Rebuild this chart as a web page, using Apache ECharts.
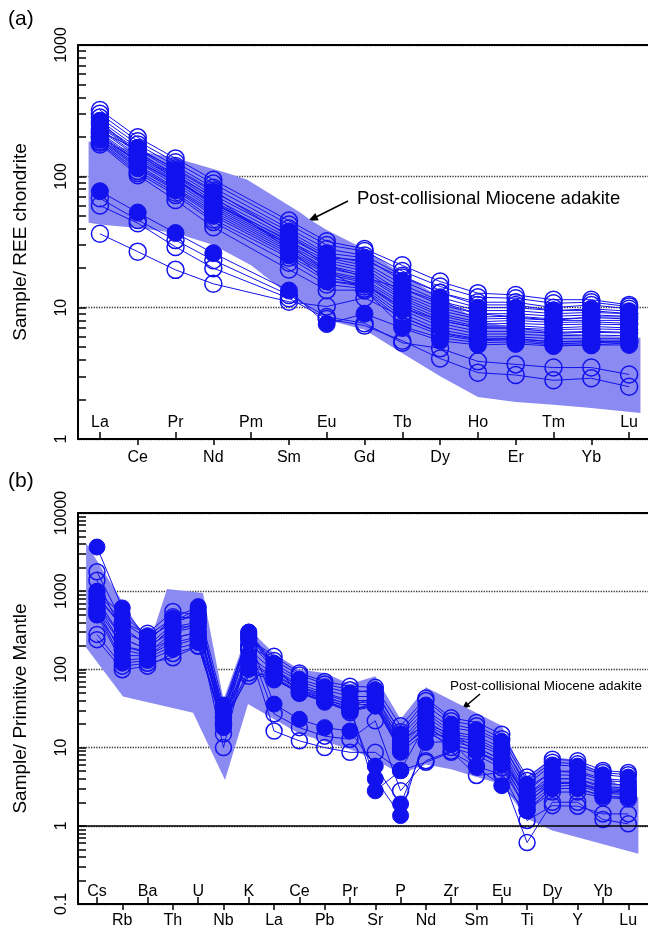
<!DOCTYPE html>
<html><head><meta charset="utf-8">
<script src="https://cdn.jsdelivr.net/npm/echarts@6/dist/echarts.min.js"></script>
<style>html,body{margin:0;padding:0;background:#fff}#c{width:648px;height:929px}</style>
</head><body><div id="c"></div>
<script>
// ---------- (a) REE chondrite-normalised ----------
const reeElements = ['La','Ce','Pr','Nd','Pm','Sm','Eu','Gd','Tb','Dy','Ho','Er','Tm','Yb','Lu'];
const reeTicksAbove = [0,2,4,6,8,10,12,14];
const reeTicksBelow = [1,3,5,7,9,11,13];
// each row: La, Ce, Pr, Nd, Pm(n.d.), Sm, Eu, Gd, Tb, Dy, Ho, Er, Tm, Yb, Lu
const reeOpen = [
  [320,198,137,94,null,46,32,28,21,15.8,12.9,12.5,11.5,11.5,10.5],
  [300,185,128,88,null,43,30,27,19,14.5,12,11.8,10.8,11,10.2],
  [280,175,120,82,null,40,28,25,17.5,13,11,11,10,10.5,9.8],
  [250,160,108,72,null,36,25,22,15,11.2,9.5,9.5,9,9.2,9],
  [230,145,100,65,null,32,23,20,13,10,8.5,8.6,8.2,8.4,8.2],
  [215,135,94,60,null,30,21,18,12,9,7.8,8,7.7,7.8,7.6],
  [210,130,90,58,null,29,20,17.5,11.5,8.7,7.5,7.6,7.4,7.5,7.4],
  [200,122,82,54,null,27,18.5,16,10.5,8,7,7,6.8,6.9,6.8],
  [195,118,80,52,null,26,18,15.5,10,7.6,6.6,6.6,6.4,6.5,6.4],
  [185,110,75,47,null,24,16,14.5,9,6.8,6,6,5.8,5.8,5.8],
  [180,106,72,45,null,22,15,14,8.5,6.4,5.7,5.8,5.5,5.5,5.6],
  [175,102,66,41,null,19.5,13.6,13.6,7.2,5.9,5.4,5.5,5.2,5.2,5.4],
  [260,150,95,62,null,33,21,17,14,11,9,8.5,8,8.5,8.5],
  [220,160,115,78,null,35,24,23,17,13,10.5,10.5,9.5,9.5,9],
  [200,130,92,64,null,30,19,13.6,8,6.2,5.6,5.7,5.3,5.4,5.5],
  [68,46.5,32.7,23,null,12.5,8.5,7.6,5.4,4.9,3.9,3.7,3.5,3.5,3.1],
  [60,44,29,20,null,11.8,8.2,7.3,5.6,4.1,3.2,3.07,2.8,2.9,2.5],
  [36.5,26.7,19.4,15.2,null,11.1,10.2,11.9,8.5,6.5,5.8,5.8,5.5,5.6,5.5]
];
const reeFilled = [
  [265,165,112,76,null,38,26,24,16,12,10,10,9.5,9.8,9.4],
  [240,150,104,68,null,34,24,21,14,10.5,9,9,8.6,8.8,8.6],
  [225,140,97,62,null,31,22,19,12.5,9.5,8.2,8.3,8,8,8],
  [205,128,86,56,null,28,19,16.5,11,8.3,7.2,7.3,7,7.2,7],
  [190,115,78,50,null,25,17,15,9.6,7.2,6.3,6.3,6.1,6.2,6.1],
  [245,155,100,70,null,28,16,15,10,8,7,7,6.5,6.6,6.5],
  [77,53,37,26,null,13.5,7.5,9,7,5.6,5.2,5.3,5.1,5.2,5.2]
];
// Post-collisional Miocene adakite field: [element position, value]
const reeFieldUpper = [[-0.3,184],[2,138],[3.36,106],[3.9,94],[5.3,53],[5.55,47],[6,39],[7,28],[8,18],[9,12],[10,8],[11,7],[12,6.5],[13,6.2],[14.3,5.9]];
const reeFieldLower = [[-0.3,44.4],[0,43],[1,40.5],[2,37],[3,30],[4,21],[5,12.5],[6,8.1],[7,6.8],[8,4.5],[9,3],[10,2.09],[11,1.91],[12,1.82],[13,1.72],[14.3,1.58]];
const reeYTicks = [1,2,3,4,5,6,7,8,9,10,20,30,40,50,60,70,80,90,100,200,300,400,500,600,700,800,900,1000];

// ---------- (b) Primitive-mantle-normalised ----------
const pmElements = ['Cs','Rb','Ba','Th','U','Nb','K','La','Ce','Pb','Pr','Sr','P','Nd','Zr','Sm','Eu','Ti','Dy','Y','Yb','Lu'];
const pmTicksAbove = [0,2,4,6,8,10,12,14,16,18,20];
const pmTicksBelow = [1,3,5,7,9,11,13,15,17,19,21];
// each row: Cs,Rb,Ba,Th,U,Nb,K,La,Ce,Pb,Pr,Sr,P,Nd,Zr,Sm,Eu,Ti,Dy,Y,Yb,Lu
const pmOpen = [
  [1770,400,290,550,500,30,250,147,90,70,61,59,19,43,24,21,14.8,4.2,7.1,6.8,5.1,4.8],
  [1380,300,220,470,450,28,200,130,85,65,55,50,16,40,22,19,13,3.8,6.5,6.2,4.8,4.5],
  [800,250,180,350,400,20,180,95,60,48,38,38,11,25,15,13,9,2.5,4.5,4.4,3.5,3.3],
  [550,130,140,200,250,24,120,78,50,40,30,35,9.5,18,12,10,7,1.8,3.2,3.3,2.6,2.5],
  [280,110,120,141,200,19,90,74,50,40,28,40,10,17,10,8,5.5,1.57,2.7,2.7,2.3,2.2],
  [240,99,110,160,197,21,82,90,55,42,33,45,12,20,11,9,6.5,2.4,3.5,3.5,2.8,2.7],
  [600,200,170,250,300,10,200,27,18,14,12.8,22,2.8,6.8,9,4.4,4.8,1.17,1.81,1.78,1.42,1.42],
  [500,180,150,220,260,15,180,16.3,12.2,10,8.7,8.7,5.1,6.5,8.7,5.8,4.5,0.61,2,2,1.2,1.06]
];
const pmFilled = [
  [3670,611,250,400,600,25,300,120,75,60,50,55,15,35,20,17,12,3,5,5,4,3.8],
  [980,500,270,450,635,35,280,110,70,55,45,45,14,30,18,16,11,3.4,6,5.8,4.5,4.2],
  [850,350,200,380,550,22,230,100,65,50,40,40,12,28,16,14,10,2.8,5,4.8,3.8,3.6],
  [700,200,160,300,350,18,150,85,55,45,35,36,10,22,14,12,8.5,2.2,4,4,3.2,3],
  [600,150,150,250,300,26,130,80,52,42,32,34,9,20,13,11,8,2,3.6,3.6,2.9,2.8],
  [500,120,130,180,220,20,100,76,50,38,29,34,8.7,16,11,9,6,1.6,3,3,2.4,2.3],
  [900,350,200,300,400,20,250,36,23,18,16.3,5.8,1.9,11.6,12,5.6,3.26,1.6,3,3,2.4,2.3],
  [1000,400,250,400,500,30,300,110,50,40,30,4,1.35,15,14,9,6,2,3.5,3.5,2.7,2.6],
  [700,250,180,350,350,25,280,100,60,45,35,2.8,5.1,20,15,10,7,2.5,4,4,3,2.9]
];
const pmFieldUpper = [[-0.43,4100],[1.7,320],[2.2,290],[2.77,1070],[4.19,950],[5,41],[6,330],[7,160],[8,100],[9,90],[10,65],[11,82],[12,23],[13,59],[16,19],[16.8,5],[17,4.2],[18,7.5],[19,7],[20,4.5],[21.4,2.3]];
const pmFieldLower = [[-0.43,190],[1.03,45],[3.8,28],[5.06,3.85],[5.97,36],[7,23],[8,15],[9,12],[10,9.5],[11,7],[12,4.6],[13,6.1],[14,5.3],[15,4.2],[16,3.4],[17,1.23],[18,0.87],[21.4,0.44]];
const pmYTicks = [0.1,0.2,0.3,0.4,0.5,0.6,0.7,0.8,0.9,1,2,3,4,5,6,7,8,9,10,20,30,40,50,60,70,80,90,100,200,300,400,500,600,700,800,900,1000,2000,3000,4000,5000,6000,7000,8000,9000,10000];
const pmReferenceLine = 1;

// ---------- styling ----------
const BLUE = '#1212ee';
const SHADE = '#8a8af2';
const FONT = 'Liberation Sans, Arial, sans-serif';

function sampleSeries(rows, filled, xi, yi, size) {
  return rows.map(r => ({
    type: 'line', xAxisIndex: xi, yAxisIndex: yi,
    data: r.map((v, i) => [i, v]).filter(p => p[1] != null),
    symbol: 'circle', symbolSize: size,
    itemStyle: filled ? { color: BLUE, borderColor: BLUE, borderWidth: 1 }
                      : { color: 'rgba(255,255,255,0)', borderColor: BLUE, borderWidth: 1.5 },
    lineStyle: { color: BLUE, width: 1 },
    emphasis: { disabled: true }, silent: true, z: 3
  }));
}
function fieldSeries(upper, lower, xi, yi, extra) {
  const pts = upper.concat(lower.slice().reverse());
  return Object.assign({
    type: 'custom', xAxisIndex: xi, yAxisIndex: yi, data: pts, silent: true, z: 1,
    encode: { x: 0, y: 1 },
    renderItem: function (params, api) {
      if (params.dataIndex !== 0) return null;
      return { type: 'polygon', shape: { points: pts.map(p => api.coord(p)) }, style: { fill: SHADE } };
    }
  }, extra || {});
}
function catAxis(gi, names, vals, min, max, inside, showLine, margin) {
  return {
    type: 'value', gridIndex: gi, position: 'bottom', min: min, max: max,
    axisLine: { show: showLine, onZero: false, lineStyle: { color: '#000', width: 2 } },
    axisTick: { show: true, customValues: vals, inside: inside, length: inside ? 7 : 6, lineStyle: { color: '#000', width: 1.5 } },
    axisLabel: { show: true, customValues: vals, inside: inside, margin: margin, color: '#000', fontSize: 16, fontFamily: FONT,
      formatter: v => names[Math.round(v)] },
    splitLine: { show: false }
  };
}
function topBorder(gi) {
  return { type: 'value', gridIndex: gi, position: 'top', min: 0, max: 1,
    axisLine: { show: true, onZero: false, lineStyle: { color: '#000', width: 2 } },
    axisTick: { show: false }, axisLabel: { show: false }, splitLine: { show: false } };
}
function logAxis(gi, min, max, name) {
  return {
    type: 'log', logBase: 10, gridIndex: gi, min: min, max: max, position: 'left',
    name: name, nameLocation: 'middle', nameGap: 48,
    nameTextStyle: { color: '#000', fontSize: 19, fontFamily: FONT },
    axisLine: { show: true, onZero: false, lineStyle: { color: '#000', width: 2 } },
    axisTick: { show: false },
    axisLabel: { rotate: 90, margin: 8, color: '#000', fontSize: 16, fontFamily: FONT, formatter: v => String(v) },
    splitLine: { show: true, lineStyle: { color: '#333', type: 'dotted', width: 1.3 } }
  };
}
function logTickAxis(gi, min, max, vals) {
  return {
    type: 'log', logBase: 10, gridIndex: gi, min: min, max: max, position: 'left',
    axisLine: { show: false, onZero: false },
    axisTick: { show: true, customValues: vals, inside: true, length: 8, lineStyle: { color: '#000', width: 1.5 } },
    axisLabel: { show: false }, splitLine: { show: false }
  };
}

const chart = echarts.init(document.getElementById('c'), null, { renderer: 'canvas' });
chart.setOption({
  animation: false,
  backgroundColor: '#fff',
  grid: [
    { left: 78, right: 0, top: 45, height: 394 },
    { left: 78, right: 0, top: 513, height: 392 }
  ],
  xAxis: [
    catAxis(0, reeElements, reeTicksAbove, -0.58, 14.5, true, false, 8),
    catAxis(0, reeElements, reeTicksBelow, -0.58, 14.5, false, true, 11),
    topBorder(0),
    catAxis(1, pmElements, pmTicksAbove, -0.75, 21.78, true, false, 4),
    catAxis(1, pmElements, pmTicksBelow, -0.75, 21.78, false, true, 9),
    topBorder(1)
  ],
  yAxis: [
    logAxis(0, 1, 1000, 'Sample/ REE chondrite'),
    logAxis(1, 0.1, 10000, 'Sample/ Primitive Mantle'),
    logTickAxis(0, 1, 1000, reeYTicks),
    logTickAxis(1, 0.1, 10000, pmYTicks)
  ],
  series: [
    fieldSeries(reeFieldUpper, reeFieldLower, 0, 0),
    ...sampleSeries(reeOpen, false, 0, 0, 17),
    ...sampleSeries(reeFilled, true, 0, 0, 17),
    fieldSeries(pmFieldUpper, pmFieldLower, 3, 1, {
      markLine: { silent: true, symbol: 'none', label: { show: false },
        lineStyle: { color: '#000', type: 'solid', width: 1.5 }, data: [{ yAxis: pmReferenceLine }] }
    }),
    ...sampleSeries(pmOpen, false, 3, 1, 16),
    ...sampleSeries(pmFilled, true, 3, 1, 16)
  ],
  graphic: [
    { type: 'text', left: 8, top: 9, style: { text: '(a)', fontSize: 21, fontFamily: FONT, fill: '#000' } },
    { type: 'text', left: 8, top: 471, style: { text: '(b)', fontSize: 21, fontFamily: FONT, fill: '#000' } },
    { type: 'text', left: 357, top: 189, style: { text: 'Post-collisional Miocene adakite', fontSize: 18.5, fontFamily: FONT, fill: '#000' } },
    { type: 'line', shape: { x1: 348, y1: 201, x2: 316, y2: 217 }, style: { stroke: '#000', lineWidth: 1.5 } },
    { type: 'polygon', shape: { points: [[308, 221], [318.7, 220.3], [315.3, 213.1]] }, style: { fill: '#000' } },
    { type: 'text', left: 450, top: 679, style: { text: 'Post-collisional Miocene adakite', fontSize: 13.5, fontFamily: FONT, fill: '#000' } },
    { type: 'line', shape: { x1: 480, y1: 694, x2: 467, y2: 705 }, style: { stroke: '#000', lineWidth: 1.5 } },
    { type: 'polygon', shape: { points: [[462, 709], [470.4, 706.6], [465.9, 701.2]] }, style: { fill: '#000' } }
  ]
});
</script></body></html>
